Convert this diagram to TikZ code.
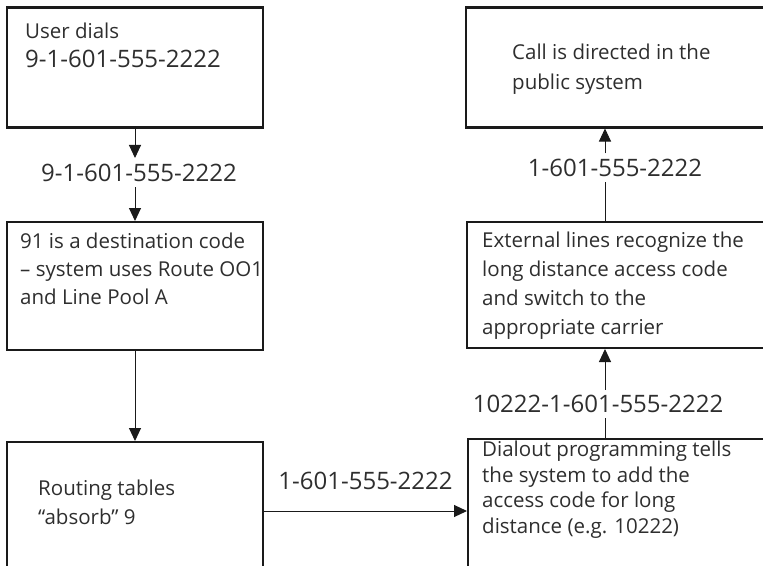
\documentclass[tikz,border=0pt]{standalone}
\usepackage{fontspec}
\setmainfont{Open Sans}
\usepackage{xcolor}
\usetikzlibrary{positioning,arrows.meta}
\definecolor{ink}{HTML}{1a1a1a}
\definecolor{lead}{HTML}{2e2e2e}
\newcommand{\nums}[1]{{\fontsize{24}{28}\selectfont #1}}
\tikzset{
  every node/.style={font=\fontsize{20.5}{28}\selectfont, text=lead},
  stage/.style={
    rectangle, draw=ink, line width=2.8pt,
    inner sep=0pt, outer sep=0pt, anchor=north west
  },
  caption/.style={anchor=north west, inner sep=0pt, align=left},
  leading/.style={font=\fontsize{20.5}{#1}\selectfont},
  number/.style={inner sep=5pt, font=\fontsize{24}{28}\selectfont},
  arrow/.style={
    -{Triangle[length=13pt,width=12pt]},
    line width=1pt, draw=ink, shorten >=1pt
  },
  link/.style={line width=1pt, draw=ink},
}

\begin{document}
\begin{tikzpicture}[x=1pt, y=-1pt]
  \useasboundingbox (0,0) rectangle (763,565);
  \clip (0,0) rectangle (763,565);

  % left column
  \node[stage, minimum width=256pt, minimum height=120pt] (dial) at (7,7.5) {};
  \node[stage, minimum width=256pt, minimum height=128pt] (route) at (7,222) {};
  \node[stage, minimum width=256pt, minimum height=138pt] (absorb) at (7,442) {};
  \node[caption, leading=28.5, below right=15.4pt and 18pt of dial.north west] (dialtext)
    {User dials\\\nums{9-1-601-555-2222}};
  \node[caption, leading=28, below right=10.4pt and 13pt of route.north west] (routetext)
    {91 is a destination code\\– system uses Route OO1\\and Line Pool A};
  \node[caption, leading=29, below right=37.4pt and 31pt of absorb.north west] (absorbtext)
    {Routing tables\\“absorb” 9};

  % right column
  \node[stage, minimum width=400pt, minimum height=120pt] (public) at (466,7.5) {};
  \node[stage, minimum width=400pt, minimum height=126pt] (carrier) at (467,222) {};
  \node[stage, minimum width=400pt, minimum height=144pt] (dialout) at (468,439) {};
  \node[caption, leading=30, below right=36pt and 46pt of public.north west] (publictext)
    {Call is directed in the\\public system};
  \node[caption, leading=29, below right=9.4pt and 15pt of carrier.north west] (carriertext)
    {External lines recognize the\\long distance access code\\and switch to the\\appropriate carrier};
  \node[caption, leading=25.5, below right=2pt and 14pt of dialout.north west] (dialouttext)
    {Dialout programming tells\\the system to add the\\access code for long\\distance (e.g. 10222)};

  % dialled digits
  \node[number] (num1) at (139,173) {9-1-601-555-2222};
  \node[number] (num2) at (598,404) {10222-1-601-555-2222};
  \node[number] (num3) at (615,167.5) {1-601-555-2222};
  \coordinate (rail) at (605,0);

  \draw[arrow] (dial.south) -- (dial.south |- num1.north);
  \draw[arrow] (dial.south |- num1.south) -- (route.north);
  \draw[arrow] (route.south) -- (absorb.north);
  \draw[arrow] (absorb.east) -- (dialout.west)
    node[number, midway, above=16pt] (num4) {1-601-555-2222};
  \draw[link] (rail |- dialout.north) -- (rail |- num2.south);
  \draw[arrow] (rail |- num2.north) -- (rail |- carrier.south);
  \draw[link] (rail |- carrier.north) -- (rail |- num3.south);
  \draw[arrow] (rail |- num3.north) -- (rail |- public.south);
\end{tikzpicture}
\end{document}
